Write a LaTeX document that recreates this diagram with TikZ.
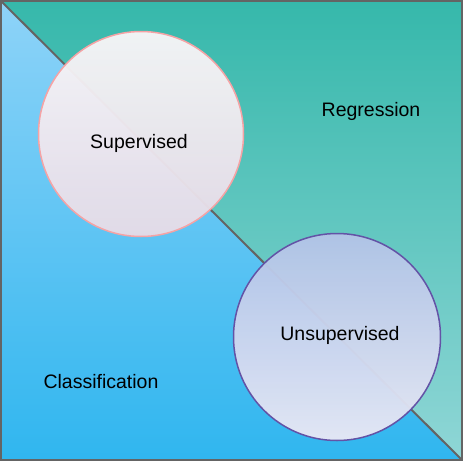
\documentclass[tikz,border=0pt]{standalone}
\usepackage{fontspec}
\setmainfont{Liberation Sans}
\usetikzlibrary{positioning}

\definecolor{tealtop}{HTML}{36B8AB}
\definecolor{tealbot}{HTML}{8FD6D6}
\definecolor{bluetop}{HTML}{8ED3F8}
\definecolor{bluebot}{HTML}{30B6EF}
\definecolor{framegray}{HTML}{646464}
\definecolor{suptop}{HTML}{F8F6F7}
\definecolor{supbot}{HTML}{E6DBE7}
\definecolor{supline}{HTML}{F5A3A5}
\definecolor{unstop}{HTML}{B2C3E7}
\definecolor{unsbot}{HTML}{E8E8F5}
\definecolor{unsline}{HTML}{6353A6}

\begin{document}
\begin{tikzpicture}[
        x=1pt, y=-1pt,
        frame/.style={draw=framegray, line width=2pt},
        divider/.style={draw=framegray, line width=2pt},
        group/.style={circle, line width=1.5pt, inner sep=0pt, fill opacity=0.96},
        group_sup/.style={group, draw=supline, top color=suptop, bottom color=supbot, minimum size=205pt},
        group_uns/.style={group, draw=unsline, top color=unstop, bottom color=unsbot, minimum size=207pt},
        label_txt/.style={font=\fontsize{19.5}{23}\selectfont, inner sep=0pt}
    ]
    \useasboundingbox[fill=white] (0,0) rectangle (466,467);

    \coordinate (tl) at (1,1);
    \coordinate (tr) at (462,1);
    \coordinate (br) at (462,460);
    \coordinate (bl) at (1,460);

    % the two halves
    \shade[top color=tealtop, bottom color=tealbot] (tl) -- (tr) -- (br) -- cycle;
    \shade[top color=bluetop, bottom color=bluebot] (tl) -- (br) -- (bl) -- cycle;
    \draw[frame] (tl) -- (tr) -- (br) -- (bl) -- cycle;
    \draw[divider] (tl) -- (br);

    % learning types
    \node[group_sup] (sup) at (141,134) {};
    \node[group_uns] (uns) at (337,337) {};

    \node[label_txt] (sup_txt) at (139,143) {Supervised};
    \node[label_txt] (uns_txt) at (340,335) {Unsupervised};
    \node[label_txt] (reg_txt) at (371,111) {Regression};
    \node[label_txt] (cls_txt) at (101,382) {Classification};
\end{tikzpicture}
\end{document}
